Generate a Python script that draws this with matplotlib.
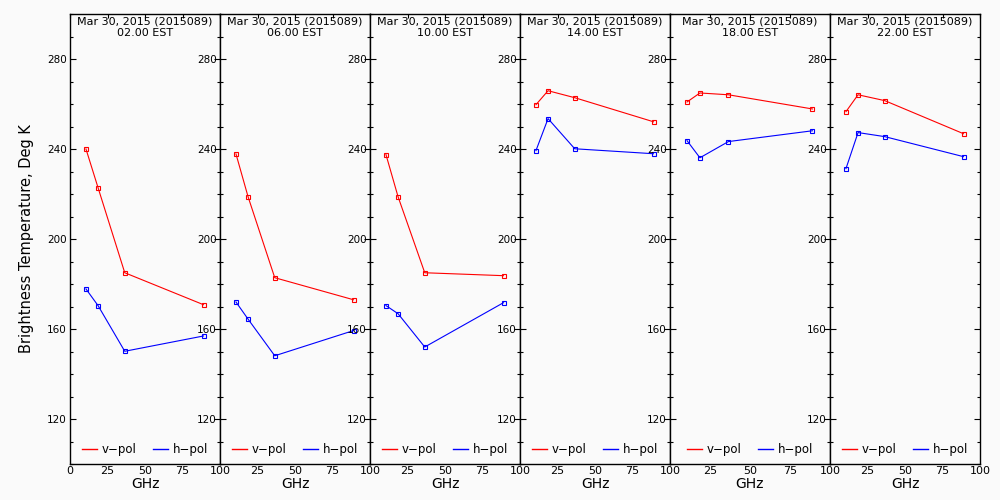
import matplotlib
matplotlib.use("Agg")
import matplotlib.pyplot as plt
from matplotlib.lines import Line2D
from matplotlib.ticker import MultipleLocator, FixedLocator

# AMSR2-like channel frequencies (GHz)
freqs = [10.65, 18.7, 36.5, 89.0]

hours = ["02.00 EST", "06.00 EST", "10.00 EST", "14.00 EST", "18.00 EST", "22.00 EST"]
date_label = "Mar 30, 2015 (2015089)"

# brightness temperatures, one row per panel
v_pol = [
    [240.0, 222.8, 185.0, 170.8],
    [237.8, 218.8, 182.8, 173.0],
    [237.5, 218.8, 185.0, 183.7],
    [259.7, 265.9, 262.8, 252.1],
    [260.9, 264.9, 264.1, 257.8],
    [256.6, 264.1, 261.5, 246.8],
]
h_pol = [
    [177.8, 170.4, 150.1, 156.9],
    [172.0, 164.4, 148.1, 159.3],
    [170.4, 166.8, 152.0, 171.7],
    [239.3, 253.5, 240.1, 237.9],
    [243.7, 236.1, 243.3, 248.1],
    [231.3, 247.3, 245.5, 236.6],
]

# panel placement in pixels (left, width) on a 1000x500 canvas
panel_left = [70, 220, 370, 520, 670, 830]
panel_width = [150, 150, 150, 150, 160, 150]

BG = "#fafafa"
W, H = 1000, 500
top_px, bot_px = 14, 464

fig = plt.figure(figsize=(10, 5), dpi=100, facecolor=BG)

legend_handles = [Line2D([], [], color="#ff0000", lw=1.0),
                  Line2D([], [], color="#0000ff", lw=1.0)]

for i in range(6):
    ax = fig.add_axes([panel_left[i] / W, 1 - bot_px / H,
                       panel_width[i] / W, (bot_px - top_px) / H])
    ax.set_facecolor(BG)
    ax.plot(freqs, v_pol[i], color="#ff0000", lw=0.8, marker="s", ms=3.4,
            mfc="none", mec="#ff0000", mew=0.8)
    ax.plot(freqs, h_pol[i], color="#0000ff", lw=0.8, marker="s", ms=3.4,
            mfc="none", mec="#0000ff", mew=0.8)

    ax.set_xlim(0, 100)
    ax.set_ylim(100, 300)

    ax.yaxis.set_major_locator(FixedLocator([120, 160, 200, 240, 280]))
    ax.yaxis.set_minor_locator(MultipleLocator(10))
    ax.tick_params(axis="y", which="both", direction="in", left=True, right=True,
                   labelsize=7.5, pad=2.5, width=0.8)
    ax.tick_params(axis="y", which="major", length=4)
    ax.tick_params(axis="y", which="minor", length=2.2)

    ax.set_xticks([0, 25, 50, 75, 100])
    if i > 0:
        ax.set_xticklabels(["", "25", "50", "75", "100"])
    ax.tick_params(axis="x", which="major", direction="in", top=True, bottom=False,
                   length=3, width=0.8, labelsize=8, pad=1.5)

    for s in ax.spines.values():
        s.set_linewidth(1.0)

    ax.set_xlabel("GHz", fontsize=10, labelpad=1)

    ax.text(0.5, 1 - 3 / 450, date_label, transform=ax.transAxes,
            ha="center", va="top", fontsize=8)
    ax.text(0.5, 1 - 14.5 / 450, hours[i], transform=ax.transAxes,
            ha="center", va="top", fontsize=8)

    ax.legend(legend_handles, ["v\u2212pol", "h\u2212pol"], loc="center",
              bbox_to_anchor=(0.5, 14 / 450), ncol=2, frameon=False,
              fontsize=8.5, handlelength=1.3, handletextpad=0.4, columnspacing=1.4,
              borderpad=0, borderaxespad=0)

fig.text(0.027, 1 - 239 / H, "Brightness Temperature, Deg K", rotation=90,
         ha="center", va="center", fontsize=10.5)

fig.savefig("out.png", dpi=100, facecolor=BG)
